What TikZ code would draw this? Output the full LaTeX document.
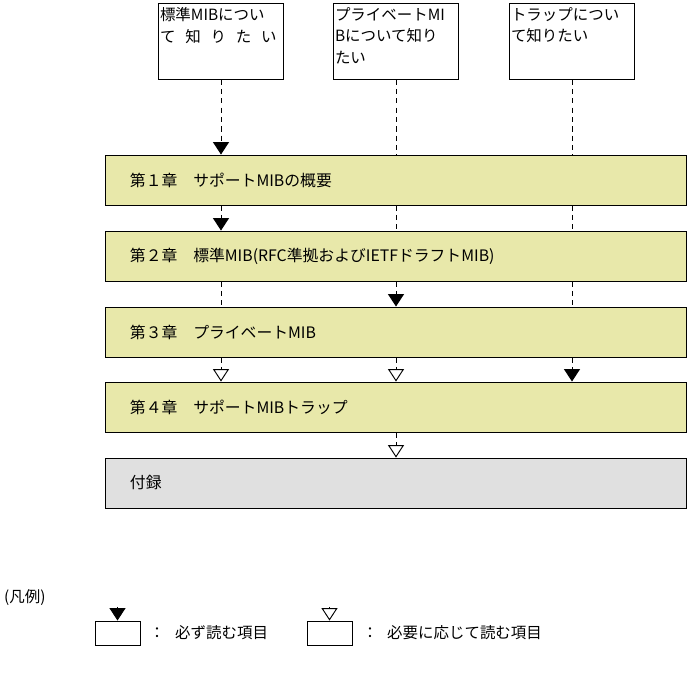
\documentclass[tikz,border=0pt]{standalone}
\usepackage{fontspec}
\setmainfont{Noto Sans CJK JP}
\usetikzlibrary{arrows.meta,positioning}

\definecolor{chapfill}{RGB}{232,232,170}
\definecolor{appfill}{RGB}{224,224,224}

\begin{document}
\begin{tikzpicture}[
    x=0.03cm, y=-0.03cm,
    every node/.style={font=\fontsize{13.2}{18.5}\selectfont},
    topic/.style={rectangle, draw, line width=0.8pt, minimum width=3.75cm, minimum height=2.28cm, inner sep=0pt},
    topictext/.style={anchor=north west, align=left, inner xsep=1.5pt, inner ysep=4pt},
    chapter/.style={rectangle, draw, line width=0.8pt, fill=chapfill, minimum width=17.43cm, minimum height=1.5cm, text width=15.93cm, inner xsep=0.75cm, align=left, font=\fontsize{13.5}{16}\selectfont},
    appendix/.style={chapter, fill=appfill},
    legendbox/.style={rectangle, draw, line width=0.8pt, minimum width=1.35cm, minimum height=0.72cm, inner sep=0pt},
    legendtext/.style={anchor=west, inner sep=0pt},
    flow/.style={dash pattern=on 4.5pt off 3.5pt, line width=0.8pt},
    must/.style={flow, -{Triangle[width=13.5pt, length=10.5pt]}},
    may/.style={flow, -{Triangle[open, width=13.5pt, length=10.5pt, fill=white]}}
]
\useasboundingbox (0,0) rectangle (688,680);

% Reader topics
\node[topic] (std) at (221,41) {};
\node[topic] (priv) at (396,41) {};
\node[topic] (trap) at (572,41) {};
\node[topictext] (stdtext) at (std.north west) {標準MIBについ\\\makebox[3.5cm][s]{て 知 り た い}};
\node[topictext] (privtext) at (priv.north west) {プライベートMI\\Bについて知り\\たい};
\node[topictext] (traptext) at (trap.north west) {トラップについ\\て知りたい};

% Chapters
\node[chapter] (ch1) at (395.5,180) {第１章　サポートMIBの概要};
\node[chapter] (ch2) at (395.5,256) {第２章　標準MIB(RFC準拠およびIETFドラフトMIB)};
\node[chapter] (ch3) at (395.5,332) {第３章　プライベートMIB};
\node[chapter] (ch4) at (395.5,407) {第４章　サポートMIBトラップ};
\node[appendix] (app) at (395.5,483) {付録};

% Standard MIB
\draw[must] (std) -- (std |- ch1.north);
\draw[must] (std |- ch1.south) -- (std |- ch2.north);
\draw[flow] (std |- ch2.south) -- (std |- ch3.north);
\draw[may] (std |- ch3.south) -- (std |- ch4.north);

% Private MIB
\draw[flow] (priv) -- (priv |- ch1.north);
\draw[flow] (priv |- ch1.south) -- (priv |- ch2.north);
\draw[must] (priv |- ch2.south) -- (priv |- ch3.north);
\draw[may] (priv |- ch3.south) -- (priv |- ch4.north);
\draw[may] (priv |- ch4.south) -- (priv |- app.north);

% Traps
\draw[flow] (trap) -- (trap |- ch1.north);
\draw[flow] (trap |- ch1.south) -- (trap |- ch2.north);
\draw[flow] (trap |- ch2.south) -- (trap |- ch3.north);
\draw[must] (trap |- ch3.south) -- (trap |- ch4.north);

% Legend
\node[legendtext] (legend) at (4,598) {(凡例)};
\node[legendbox] (mustbox) at (117.5,633) {};
\coordinate (musttop) at (117.5,607);
\draw[must, solid] (musttop) -- (mustbox);
\node (mustcolon) at (157,633) {：};
\node[legendtext] (musttext) at (175,633) {必ず読む項目};
\node[legendbox] (maybox) at (329.5,633) {};
\coordinate (maytop) at (329.5,607);
\draw[may, solid] (maytop) -- (maybox);
\node (maycolon) at (370,633) {：};
\node[legendtext] (maytext) at (387,633) {必要に応じて読む項目};
\end{tikzpicture}
\end{document}
